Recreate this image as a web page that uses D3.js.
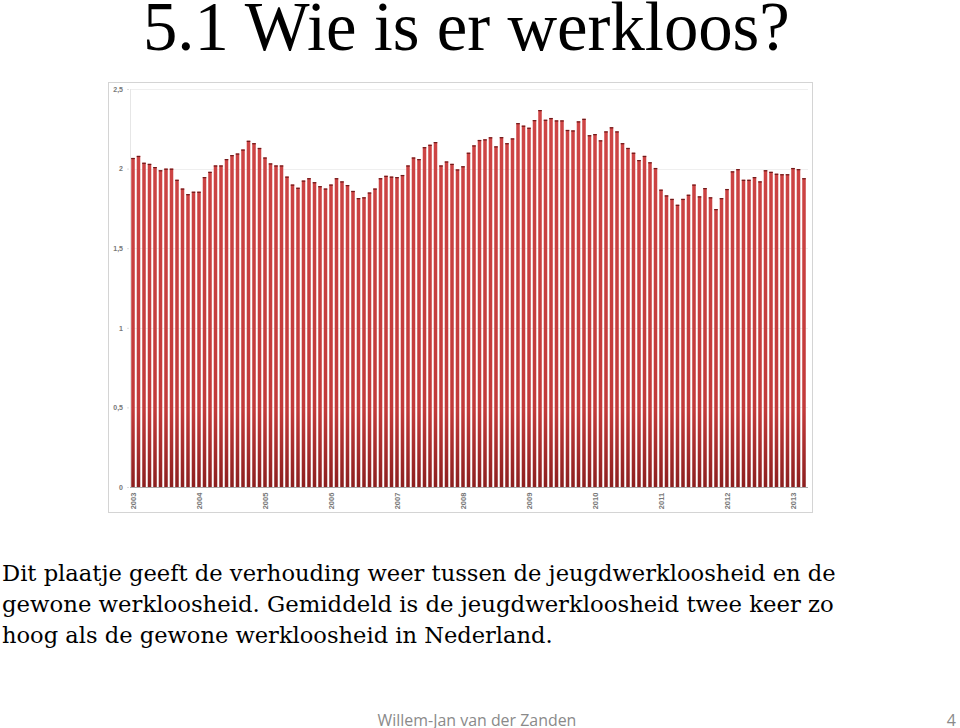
<!DOCTYPE html>
<html><head><meta charset="utf-8">
<script src="https://cdn.jsdelivr.net/npm/d3@7"></script>
<style>html,body{margin:0;padding:0;background:#fff;overflow:hidden}</style>
</head><body>
<svg id="c" width="960" height="728"></svg>
<script>
// ---- data ----
const title = "5.1 Wie is er werkloos?";
const years = ["2003","2004","2005","2006","2007","2008","2009","2010","2011","2012","2013"];
const yTicks = [0, 0.5, 1, 1.5, 2, 2.5];
const yTickLabels = ["0","0,5","1","1,5","2","2,5"];
// ratio youth unemployment / total unemployment, monthly Jan 2003 .. Mar 2013
const ratios = [
 2.067,2.08,2.037,2.03,2.01,1.99,2.0,2.0,1.93,1.875,1.84,1.855,
 1.855,1.947,1.98,2.02,2.02,2.06,2.085,2.095,2.12,2.175,2.16,2.13,
 2.07,2.033,2.02,2.02,1.95,1.90,1.88,1.925,1.94,1.915,1.89,1.875,
 1.90,1.94,1.92,1.897,1.86,1.815,1.82,1.85,1.875,1.94,1.955,1.95,
 1.947,1.96,2.02,2.07,2.06,2.135,2.15,2.167,2.02,2.045,2.03,1.995,
 2.015,2.10,2.146,2.18,2.184,2.197,2.14,2.198,2.16,2.19,2.286,2.27,
 2.257,2.305,2.368,2.307,2.318,2.303,2.303,2.243,2.24,2.297,2.313,2.21,
 2.217,2.178,2.234,2.26,2.234,2.16,2.13,2.10,2.054,2.08,2.04,2.004,
 1.868,1.832,1.81,1.773,1.81,1.836,1.90,1.826,1.878,1.82,1.746,1.815,
 1.872,1.983,1.997,1.93,1.93,1.947,1.92,1.99,1.98,1.968,1.965,1.965,
 2.004,1.997,1.94
];
const months = ratios.map((_, i) => years[Math.floor(i / 12)] + "-" + String(i % 12 + 1).padStart(2, "0"));
const bodyLines = [
 "Dit plaatje geeft de verhouding weer tussen de jeugdwerkloosheid en de",
 "gewone werkloosheid. Gemiddeld is de jeugdwerkloosheid twee keer zo",
 "hoog als de gewone werkloosheid in Nederland."
];
const footer = "Willem-Jan van der Zanden";
const pageNo = "4";

// ---- drawing ----
const svg = d3.select("#c");

function fitText(sel, target) {
  const w = sel.node().getComputedTextLength();
  const fs = parseFloat(sel.attr("font-size"));
  sel.attr("font-size", fs * target / w);
}

svg.append("text").attr("x", 143).attr("y", 50)
  .attr("font-family", "Liberation Serif, Times New Roman, serif")
  .attr("font-size", 68).attr("fill", "#000").text(title)
  .call(s => fitText(s, 647));

// chart frame
svg.append("rect").attr("x", 108.5).attr("y", 82.5).attr("width", 704).attr("height", 430)
  .attr("fill", "#fff").attr("stroke", "#d4d4d4");

const x = d3.scaleBand().domain(months).range([130.25, 806.75]).paddingInner(0.36).paddingOuter(0.18);
const y = d3.scaleLinear().domain([0, 2.5]).range([487, 89]);

const defs = svg.append("defs");
const grad = defs.append("linearGradient").attr("id", "bg")
  .attr("gradientUnits", "userSpaceOnUse").attr("x1", 0).attr("x2", 0).attr("y1", y(2.4)).attr("y2", y(0));
grad.append("stop").attr("offset", "0%").attr("stop-color", "#cf4646");
grad.append("stop").attr("offset", "80%").attr("stop-color", "#c23a3a");
grad.append("stop").attr("offset", "100%").attr("stop-color", "#8c1f1f");

// gridlines
svg.append("g").selectAll("line").data(yTicks.slice(1)).join("line")
  .attr("x1", 130).attr("x2", 808).attr("y1", d => Math.round(y(d)) + 0.5).attr("y2", d => Math.round(y(d)) + 0.5)
  .attr("stroke", "#efefef");
svg.append("line").attr("x1", 130.5).attr("x2", 130.5).attr("y1", y(2.5)).attr("y2", y(0))
  .attr("stroke", "#e6e6e6");

// y axis labels
const yAxis = d3.axisLeft(y).tickValues(yTicks).tickFormat((d, i) => yTickLabels[i]).tickSize(2).tickPadding(4);
const ga = svg.append("g").attr("transform", "translate(129,0)").call(yAxis);
ga.select(".domain").remove();
ga.selectAll("line").attr("stroke", "#ddd");
ga.selectAll("text").attr("font-family", "Liberation Sans, Arial, sans-serif").attr("font-size", 7)
  .attr("font-weight", "bold").attr("fill", "#777");

// bars
svg.append("g").selectAll("rect").data(ratios).join("rect")
  .attr("x", (d, i) => x(months[i])).attr("width", x.bandwidth())
  .attr("y", d => y(d)).attr("height", d => y(0) - y(d))
  .attr("fill", "url(#bg)");
svg.append("g").selectAll("rect").data(ratios).join("rect")
  .attr("x", (d, i) => x(months[i])).attr("width", x.bandwidth())
  .attr("y", d => y(d)).attr("height", 1.2)
  .attr("fill", "#6e1a1a");
// baseline
svg.append("line").attr("x1", 130).attr("x2", 808).attr("y1", y(0) + 0.5).attr("y2", y(0) + 0.5).attr("stroke", "#aaa");

// x labels (years at January)
svg.append("g").selectAll("text").data(years).join("text")
  .attr("transform", (d, i) => `translate(${x(months[i * 12]) + x.bandwidth() / 2 + 2.5},501) rotate(-90)`)
  .attr("text-anchor", "middle")
  .attr("font-family", "Liberation Sans, Arial, sans-serif").attr("font-size", 7.5)
  .attr("font-weight", "bold").attr("fill", "#777").text(d => d);

// body text
const bodyY = [581, 612, 643];
const bodyW = [834, 832, 551];
bodyLines.forEach((t, i) => {
  svg.append("text").attr("x", 2).attr("y", bodyY[i])
    .attr("font-family", "DejaVu Serif, serif").attr("font-size", 22).attr("fill", "#000").text(t)
    .call(s => fitText(s, bodyW[i]));
});

// footer
svg.append("text").attr("x", 477).attr("y", 726).attr("text-anchor", "middle")
  .attr("font-family", "Open Sans, Liberation Sans, sans-serif").attr("font-size", 16)
  .attr("fill", "#8a8a8a").text(footer).call(s => fitText(s, 199));
svg.append("text").attr("x", 956).attr("y", 726).attr("text-anchor", "end")
  .attr("font-family", "Open Sans, Liberation Sans, sans-serif").attr("font-size", 16)
  .attr("fill", "#8a8a8a").text(pageNo);
</script>
</body></html>
